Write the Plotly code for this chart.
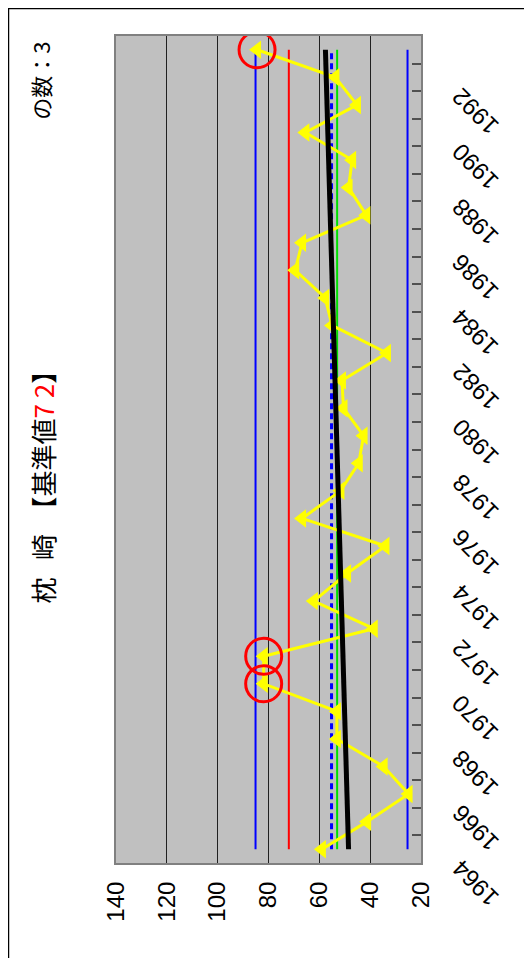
import plotly.graph_objects as go

# ── data ──────────────────────────────────────────────────────────────────────
years = list(range(1964, 1994))
values = [59.0, 41.2, 24.9, 34.7, 53.1, 53.1, 81.9, 81.9, 38.6, 62.2,
          49.1, 34.0, 66.8, 51.7, 44.5, 42.6, 50.5, 51.1, 33.4, 55.0,
          57.7, 69.5, 66.8, 41.5, 48.5, 47.1, 65.5, 45.2, 53.7, 84.5]
exceed_years = [1970, 1971, 1993]

base_value = 72.0      # 基準値 (red)
mean_value = 53.0      # green
center_value = 55.2    # blue dashed
upper_value = 85.1     # blue
lower_value = 25.3     # blue
trend_start = 48.5
trend_end = 57.6

value_ticks = [20, 40, 60, 80, 100, 120, 140]
year_labels = list(range(1964, 1993, 2))
year_ticks = [y - 0.5 for y in range(1964, 1995)]

NB = "\u00a0"
title_text = ("枕" + NB * 3 + "崎" + NB * 2 + "【基準値"
              "<span style='color:red'>7" + NB + "2</span>】")
count_text = "の数：3"

span = [years[0], years[-1]]

fig = go.Figure()

# reference lines
for v, col in [(upper_value, "blue"), (lower_value, "blue"), (base_value, "red"), (mean_value, "#00e000")]:
    fig.add_trace(go.Scatter(x=[v, v], y=span, mode="lines",
                             line=dict(color=col, width=2), hoverinfo="skip"))
fig.add_trace(go.Scatter(x=[center_value, center_value], y=span, mode="lines",
                         line=dict(color="blue", width=3, dash="6px,4px"), hoverinfo="skip"))

# yearly values
fig.add_trace(go.Scatter(
    x=values, y=years, mode="lines+markers",
    line=dict(color="#ffff00", width=3),
    marker=dict(symbol="triangle-left", size=16, color="#ffff00"),
))

# trend
fig.add_trace(go.Scatter(x=[trend_start, trend_end], y=span, mode="lines",
                         line=dict(color="black", width=5), hoverinfo="skip"))

# circles around exceedances
ex_vals = [values[years.index(y)] for y in exceed_years]
fig.add_trace(go.Scatter(
    x=ex_vals, y=exceed_years, mode="markers",
    marker=dict(symbol="circle-open", size=36, color="red", line=dict(width=3, color="red")),
))

# year labels (rotated)
for y in year_labels:
    fig.add_annotation(x=1.177, xref="paper", y=y, yref="y", yshift=-34,
                       text=str(y), showarrow=False, textangle=-135,
                       font=dict(family="Liberation Sans, Arial", size=24, color="black"),
                       xanchor="center", yanchor="middle")

fig.add_annotation(x=-0.244, xref="paper", y=0.4619, yref="paper",
                   text=title_text, showarrow=False, textangle=-90,
                   font=dict(family="Noto Sans CJK JP", size=26, color="black"),
                   xanchor="center", yanchor="middle")
fig.add_annotation(x=-0.25, xref="paper", y=0.9456, yref="paper",
                   text=count_text, showarrow=False, textangle=-90,
                   font=dict(family="Noto Sans CJK JP", size=22, color="black"),
                   xanchor="center", yanchor="middle")

# outer frame
fig.add_shape(type="rect", xref="paper", yref="paper",
              x0=-0.3525, x1=2, y0=-1, y1=1.0333,
              line=dict(color="black", width=1.5), fillcolor="rgba(0,0,0,0)")

fig.update_layout(
    width=524, height=950,
    margin=dict(l=108, r=111, t=28, b=95),
    paper_bgcolor="white",
    plot_bgcolor="#c0c0c0",
    showlegend=False,
    xaxis=dict(range=[140, 20], tickvals=value_ticks, tickangle=-90,
               tickfont=dict(family="Liberation Sans, Arial", size=24, color="black"),
               showgrid=True, gridcolor="#202020", gridwidth=1, zeroline=False,
               showline=True, linecolor="#808080", linewidth=2, mirror=True,
               ticks="", ticklabelstandoff=7),
    yaxis=dict(range=[1963.5, 1993.5], side="right", tickvals=year_ticks,
               showticklabels=False, ticks="inside", ticklen=9, tickwidth=2,
               tickcolor="#505050", showgrid=False, zeroline=False,
               showline=True, linecolor="#808080", linewidth=2, mirror=True),
)

fig.write_html("out.html")
